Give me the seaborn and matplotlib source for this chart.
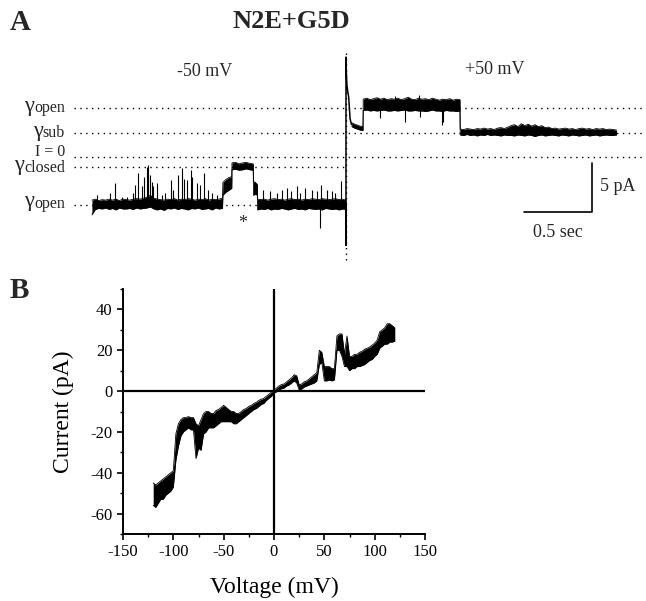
import numpy as np
import matplotlib
matplotlib.use("Agg")
import matplotlib.pyplot as plt
from matplotlib.ticker import MultipleLocator
import seaborn as sns

# ---------------- data ----------------
# Panel A: single-channel trace, time in s, current in pA
# each segment: (t_start, t_end, [(low, high) envelope of the noisy trace])
left_open1 = [(-5.9, -4.4), (-5.35, -4.3), (-5.25, -4.45), (-5.3, -4.35), (-5.2, -4.4), (-5.35, -4.3),
              (-5.25, -4.4), (-5.4, -4.3), (-5.2, -4.45), (-5.3, -4.3), (-5.3, -4.35), (-5.25, -4.4),
              (-5.35, -4.3), (-5.2, -4.25), (-5.3, -4.3), (-5.25, -4.2), (-5.2, -4.1), (-5.1, -3.9),
              (-5.3, -4.2), (-5.4, -4.3), (-5.3, -4.35), (-5.45, -4.4), (-5.25, -4.3), (-5.3, -4.35),
              (-5.2, -4.25), (-5.35, -4.4), (-5.25, -4.3), (-5.3, -4.35), (-5.4, -4.25), (-5.25, -4.3),
              (-5.3, -4.4), (-5.2, -4.3), (-5.35, -4.35), (-5.3, -4.25), (-5.25, -4.4), (-5.4, -4.3),
              (-5.2, -4.35), (-5.3, -4.3), (-5.25, -4.2)]
left_sub1 = [(-3.9, -2.6), (-3.6, -2.3), (-3.4, -2.1), (-3.2, -2.0)]
left_closed = [(-1.3, -0.6), (-1.25, -0.55), (-1.35, -0.7), (-1.3, -0.6), (-1.2, -0.55), (-1.3, -0.65),
               (-1.35, -0.7)]
left_sub2 = [(-3.9, -2.5), (-3.8, -2.6), (-3.9, -2.8)]
left_open2 = [(-5.4, -4.3), (-5.3, -4.35), (-5.35, -4.3), (-5.25, -4.4), (-5.4, -4.3), (-5.3, -4.25),
              (-5.35, -4.35), (-5.25, -4.3), (-5.3, -4.4), (-5.4, -4.3), (-5.3, -4.25), (-5.25, -4.35),
              (-5.35, -4.3), (-5.3, -4.4), (-5.4, -4.3), (-5.25, -4.35), (-5.3, -4.25), (-5.35, -4.3),
              (-5.3, -4.35), (-5.4, -4.25), (-5.25, -4.3), (-5.3, -4.35), (-5.35, -4.3), (-5.3, -4.25),
              (-5.4, -4.35), (-5.3, -4.3), (-5.35, -4.4)]
right_sub1 = [(3.1, 3.5), (2.95, 3.35), (2.85, 3.25), (2.75, 3.15), (2.7, 3.1)]
right_open = [(4.75, 5.9), (4.8, 6.0), (4.7, 5.85), (4.75, 5.95), (4.7, 6.05), (4.75, 5.9), (4.8, 6.0),
              (4.7, 5.85), (4.7, 5.95), (4.75, 5.9), (4.7, 6.0), (4.75, 5.85), (4.8, 5.95), (4.7, 6.1),
              (4.7, 5.9), (4.75, 5.85), (4.7, 6.0), (4.7, 5.9), (4.65, 5.95), (4.7, 5.85), (4.8, 6.0),
              (4.7, 5.9), (4.7, 5.8), (4.65, 5.9), (4.75, 5.85), (4.7, 5.95), (4.7, 5.8), (4.65, 5.9),
              (4.7, 5.85)]
right_sub2 = [(2.25, 2.85), (2.2, 2.8), (2.3, 2.9), (2.2, 2.85), (2.25, 2.8), (2.15, 2.9), (2.25, 2.85),
              (2.2, 2.95), (2.3, 2.85), (2.2, 2.9), (2.25, 2.8), (2.2, 2.95), (2.15, 3.0), (2.25, 2.9),
              (2.2, 3.05), (2.2, 3.2), (2.15, 3.3), (2.25, 3.1), (2.2, 3.4), (2.15, 3.2), (2.25, 3.35),
              (2.2, 3.15), (2.1, 3.3), (2.2, 3.1), (2.25, 3.2), (2.15, 3.0), (2.2, 3.05), (2.25, 2.9),
              (2.2, 2.95), (2.15, 2.85), (2.25, 2.9), (2.2, 2.95), (2.15, 2.85), (2.25, 2.9), (2.2, 2.8),
              (2.15, 2.9), (2.2, 2.95), (2.25, 2.85), (2.15, 2.9), (2.2, 2.8), (2.25, 2.9), (2.15, 2.85),
              (2.2, 2.9), (2.25, 2.8), (2.2, 2.85), (2.2, 2.8), (2.25, 2.75)]

left_segments = [(0.0, 0.960, left_open1), (0.963, 1.028, left_sub1), (1.030, 1.186, left_closed),
                 (1.188, 1.216, left_sub2), (1.218, 1.868, left_open2)]
right_segments = [(1.910, 1.993, right_sub1), (1.995, 2.706, right_open), (2.708, 3.857, right_sub2)]

# brief openings/closings (time, peak current)
spike_t = [0.035, 0.132, 0.169, 0.218, 0.255, 0.304, 0.316, 0.340, 0.365, 0.385, 0.402, 0.414,
           0.426, 0.439, 0.451, 0.476, 0.512, 0.537, 0.581, 0.598, 0.630, 0.660, 0.679, 0.696,
           0.728, 0.738, 0.770, 0.794, 0.826, 0.851, 0.880, 0.917,
           1.260, 1.309, 1.358, 1.395, 1.432, 1.463, 1.505, 1.529, 1.566, 1.615, 1.652, 1.684,
           1.726, 1.763, 1.789, 1.831, 1.676]
spike_peak = [-3.9, -3.7, -2.7, -4.05, -4.05, -3.7, -2.85, -1.66, -3.0, -2.0, -1.0, -0.82,
              -1.84, -2.5, -3.0, -2.7, -3.9, -3.7, -2.35, -3.4, -1.84, -1.15, -2.2, -2.35,
              -1.33, -2.0, -2.7, -2.85, -1.66, -3.4, -3.7, -3.9,
              -3.4, -3.5, -3.7, -3.4, -3.2, -3.5, -3.0, -3.7, -3.2, -3.4, -3.5, -2.85,
              -3.4, -3.5, -3.7, -2.4, -7.2]
spike_base = -4.8
r_spike_t = [2.118, 2.228, 2.301, 2.404, 2.412, 2.571, 2.583]
r_spike_peak = [4.0, 6.2, 3.6, 6.3, 4.1, 3.3, 3.6]
r_spike_base = 5.3

# voltage step transient
step_t = [1.868, 1.868, 1.868, 1.871, 1.875, 1.882, 1.888, 1.893, 1.898, 1.905, 1.910]
step_i = [-4.8, -9.0, 10.2, 8.5, 7.3, 6.6, 6.1, 5.0, 3.9, 3.5, 3.3]

# reference levels (pA)
level_vals = [5.0, 2.45, 0.0, -1.02, -4.85]
level_end = [4.05, 4.05, 4.05, 1.85, 1.85]
level_words = ["open", "sub", "I = 0", "closed", "open"]
level_gamma = [True, True, False, True, True]
label_base = [4.55, 2.0, 0.1, -1.55, -5.2]

# Panel B: ramp I-V, voltage (mV) and current envelope (pA)
ramp_v = [-120, -117.5, -115, -112.5, -110, -107.5, -105, -102.5, -100, -97.5, -95, -92.5, -90,
          -87.5, -85, -82.5, -80, -77.5, -75, -72.5, -70, -67.5, -65, -62.5, -60, -57.5, -55,
          -52.5, -50, -47.5, -45, -42.5, -40, -37.5, -35, -32.5, -30, -27.5, -25, -22.5, -20,
          -17.5, -15, -12.5, -10, -7.5, -5, -2.5, 0, 2.5, 5, 7.5, 10, 12.5, 15, 17.5, 20, 22.5,
          25, 27.5, 30, 32.5, 35, 37.5, 40, 42.5, 45, 47.5, 50, 52.5, 55, 57.5, 60, 62.5, 65,
          67.5, 70, 72.5, 75, 77.5, 80, 82.5, 85, 87.5, 90, 92.5, 95, 97.5, 100, 102.5, 105,
          107.5, 110, 112.5, 115, 117.5, 120]
ramp_lo = [-56, -57, -55, -53, -53, -51, -50, -49, -47, -34, -27, -22, -20, -19, -18, -19, -19,
           -33, -28, -29, -21, -20, -18, -18, -18, -17, -16, -15, -15, -15, -15, -15, -16, -16,
           -15, -14, -13, -12, -11, -10, -9, -8.5, -7.5, -6.5, -6, -4.5, -3.5, -2.5, -1, -0.3,
           0.5, 1.2, 1.5, 2.5, 3, 4, 5, 4, 0.5, 1, 2, 2.5, 3, 3.5, 4, 5, 13, 14, 5, 5, 5.5, 5,
           5.5, 20, 20, 17, 12, 12, 10, 11, 11, 12, 12, 12.5, 13, 14, 15, 15.5, 17, 18, 21, 22,
           23, 23, 24, 24, 24.5]
ramp_hi = [-45, -46, -45, -44, -43, -42, -41, -40, -39, -21, -16, -14, -13, -13, -12.5, -13, -13,
           -16, -17, -14, -11, -10, -10, -11, -11, -9.5, -9, -8, -7, -8, -9, -10, -10, -11, -11,
           -10, -9, -8.5, -7.5, -7, -6, -5.5, -4.5, -4, -3.5, -2.5, -1.5, -0.5, 0.5, 1.5, 2.5,
           3.2, 3.5, 4.5, 5.5, 6.5, 8, 7.5, 3, 3.5, 4.5, 5, 6, 7, 8, 9, 20, 19, 12, 12, 12, 11,
           11, 27, 28, 28, 18, 27, 17, 17, 18, 18, 19, 19.5, 20.5, 21, 21.5, 22.5, 23.5, 25, 29,
           30, 31, 33, 33, 32, 31]


def envelope(segments):
    t, lo, hi = [], [], []
    for t0, t1, pairs in segments:
        t.extend(np.linspace(t0, t1, len(pairs)))
        lo.extend(p[0] for p in pairs)
        hi.extend(p[1] for p in pairs)
    return np.array(t), np.array(lo), np.array(hi)


# ---------------- figure ----------------
sns.set_theme(style="ticks")
plt.rcParams["font.family"] = ["Liberation Serif", "DejaVu Serif"]
plt.rcParams["axes.unicode_minus"] = False

fig = plt.figure(figsize=(6.46, 6.01), dpi=100)

# ---- Panel A ----
ax_a = fig.add_axes([0, 331 / 601, 1, 230 / 601])
ax_a.set_xlim(-0.676, 4.074)
ax_a.set_ylim(-11.53, 11.94)
ax_a.axis("off")

for val, x_end in zip(level_vals, level_end):
    ax_a.plot([-0.132, x_end], [val, val], color="black", lw=1.0, ls=(0, (1, 3.2)))
ax_a.plot([1.868, 1.868], [-10.5, 10.6], color="black", lw=1.0, ls=(0, (1, 3)))

for segs in (left_segments, right_segments):
    t, lo, hi = envelope(segs)
    ax_a.fill_between(t, lo, hi, color="black", lw=0)
    sns.lineplot(x=t, y=lo, ax=ax_a, color="black", lw=0.6, estimator=None, sort=False)
    sns.lineplot(x=t, y=hi, ax=ax_a, color="black", lw=0.6, estimator=None, sort=False)

ax_a.vlines(spike_t, spike_base, spike_peak, color="black", lw=0.8)
ax_a.vlines(r_spike_t, r_spike_base, r_spike_peak, color="black", lw=0.8)
sns.lineplot(x=step_t, y=step_i, ax=ax_a, color="black", lw=1.1, estimator=None, sort=False)

# level labels: large gamma followed by the state name
for word, has_gamma, y in zip(level_words, level_gamma, label_base):
    txt = ax_a.text(-0.199, y, word, ha="right", va="baseline", fontsize=11.5)
    if has_gamma:
        ax_a.annotate("γ", xy=(0, 0), xycoords=txt, xytext=(0, 0.6), textcoords="offset points",
                      ha="right", va="bottom", fontsize=16)

ax_a.text(0.83, 8.7, "-50 mV", ha="center", va="center", fontsize=13)
ax_a.text(2.963, 8.9, "+50 mV", ha="center", va="center", fontsize=13)
ax_a.text(1.11, -6.8, "*", ha="center", va="center", fontsize=13)

# scale bars: 0.5 s, 5 pA
bar_x0, bar_y0 = 3.176, -5.61
ax_a.plot([bar_x0, bar_x0 + 0.5, bar_x0 + 0.5], [bar_y0, bar_y0, bar_y0 + 5], color="black", lw=1.2)
ax_a.text(bar_x0 + 0.56, bar_y0 + 2.55, "5 pA", ha="left", va="center", fontsize=13)
ax_a.text(bar_x0 + 0.25, bar_y0 - 2.05, "0.5 sec", ha="center", va="center", fontsize=13)

# ---- Panel B ----
ax_b = fig.add_axes([123 / 646, 67 / 601, 302 / 646, 245 / 601])
ax_b.axhline(0, color="black", lw=1.6)
ax_b.axvline(0, color="black", lw=1.6)
ax_b.fill_between(ramp_v, ramp_lo, ramp_hi, color="black", lw=0)
sns.lineplot(x=ramp_v, y=ramp_lo, ax=ax_b, color="black", lw=0.6, estimator=None, sort=False)
sns.lineplot(x=ramp_v, y=ramp_hi, ax=ax_b, color="black", lw=0.6, estimator=None, sort=False)

ax_b.set_xlim(-150, 150)
ax_b.set_ylim(-70, 50)
ax_b.set_xticks([-150, -100, -50, 0, 50, 100, 150])
ax_b.set_yticks([-60, -40, -20, 0, 20, 40])
ax_b.xaxis.set_minor_locator(MultipleLocator(25))
ax_b.yaxis.set_minor_locator(MultipleLocator(10))
ax_b.tick_params(which="major", direction="out", length=4, width=1.2, color="black",
                 labelsize=12, labelcolor="black")
ax_b.tick_params(which="minor", direction="out", length=2.5, width=1.0, color="black")
sns.despine(ax=ax_b)
for side in ("left", "bottom"):
    ax_b.spines[side].set_color("black")
    ax_b.spines[side].set_linewidth(1.4)
ax_b.set_xlabel("Voltage (mV)", fontsize=17, color="black", labelpad=12)
ax_b.set_ylabel("Current (pA)", fontsize=17, color="black", labelpad=12)

fig.text(291 / 646, 1 - 22 / 601, "N2E+G5D", ha="center", va="center", fontsize=19, fontweight="bold")
fig.text(10 / 646, 1 - 22 / 601, "A", ha="left", va="center", fontsize=21, fontweight="bold")
fig.text(10 / 646, 1 - 291 / 601, "B", ha="left", va="center", fontsize=21, fontweight="bold")

fig.savefig("out.png", dpi=100, facecolor="white")
